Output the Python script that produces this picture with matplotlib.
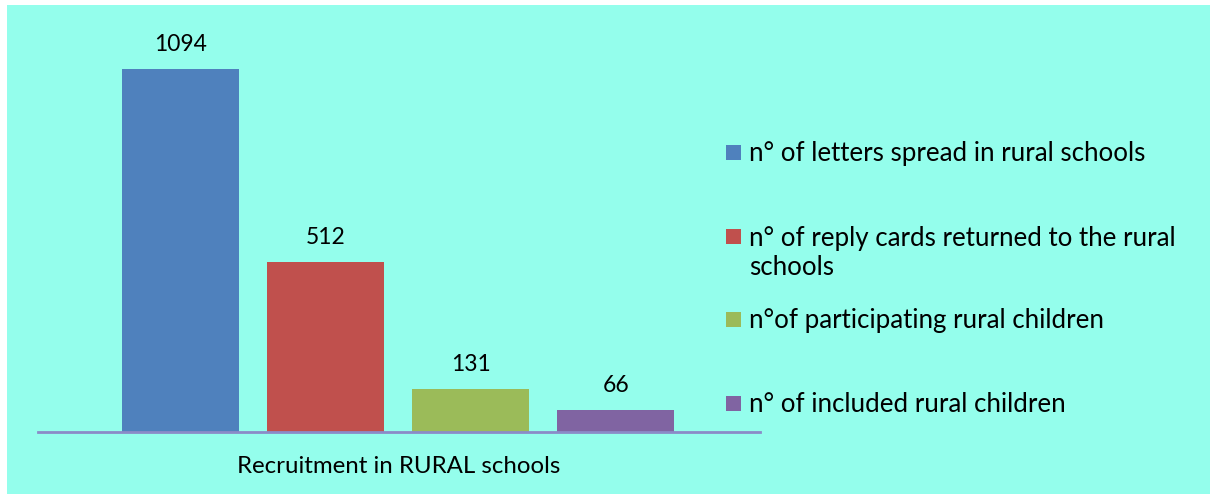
import matplotlib.pyplot as plt
from matplotlib.patches import Rectangle

# values
labels = ["n° of letters spread in rural schools",
          "n° of reply cards returned to the rural\nschools",
          "n°of participating rural children",
          "n° of included rural children"]
values = [1094, 512, 131, 66]
colors = ["#4F81BD", "#C0504D", "#9BBB59", "#8064A2"]
category = "Recruitment in RURAL schools"

bg = "#94FEEC"
plt.rcParams['font.family'] = ['Lato', 'DejaVu Sans']

fig = plt.figure(figsize=(12.1, 4.94), dpi=100)
fig.patch.set_facecolor("white")
# cyan chart area (white strip top and left like the reference)
fig.add_artist(Rectangle((7 / 1210, 0), 1 - 7 / 1210, 1 - 5 / 494,
                         transform=fig.transFigure, facecolor=bg,
                         edgecolor="none", zorder=0))

ax = fig.add_axes([38 / 1210, 62 / 494, 722 / 1210, 412 / 494])
ax.set_facecolor("none")

x = list(range(len(values)))
bars = ax.bar(x, values, width=0.807, color=colors, zorder=2)
for b, v in zip(bars, values):
    ax.annotate(str(v), (b.get_x() + b.get_width() / 2, v),
                xytext=(0, 17.5), textcoords="offset points",
                ha="center", va="center", fontsize=16.5)

ax.set_xlim(-0.983, 3.993)
ax.set_ylim(0, 1242)
for s in ["top", "right", "left"]:
    ax.spines[s].set_visible(False)
ax.spines["bottom"].set_color("#8B8BC8")
ax.spines["bottom"].set_linewidth(2)
ax.set_yticks([])
ax.set_xticks([])
ax.set_xlabel(category, fontsize=17.3, labelpad=17.5)

# legend drawn by hand so the square sits on the first line
legend_y = [152, 237, 319, 403]
for lab, c, yy in zip(labels, colors, legend_y):
    fy = 1 - yy / 494
    fig.add_artist(Rectangle((726 / 1210, fy - 7.5 / 494), 15 / 1210, 15 / 494,
                             transform=fig.transFigure, facecolor=c,
                             edgecolor="none"))
    fig.text(749 / 1210, fy + 11 / 494, lab, fontsize=18.6, va="top",
             ha="left", linespacing=1.2)

fig.savefig("out.png", dpi=100, facecolor=fig.get_facecolor())
